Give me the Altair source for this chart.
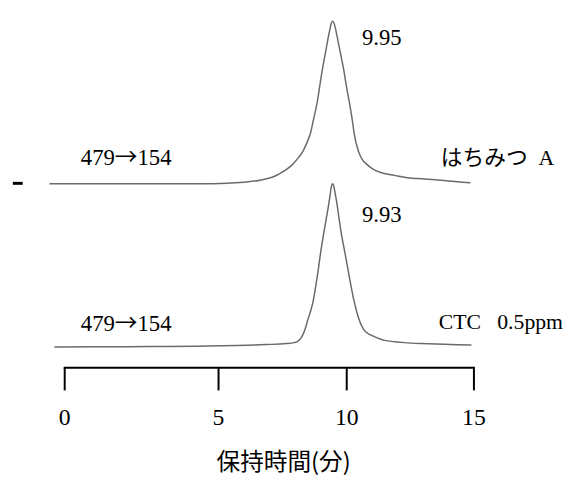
import altair as alt
import pandas as pd

# ---- data: retention time (min) and relative intensity (% of peak)
top_time = [-0.48, 1.12, 2.72, 4.33, 5.38, 6.12, 6.69, 7.19, 7.58, 7.88, 8.12, 8.31, 8.46, 8.62,
            8.73, 8.87, 8.96, 9.07, 9.19, 9.31, 9.37, 9.41, 9.47, 9.53, 9.58, 9.64, 9.77, 9.90,
            10.00, 10.12, 10.23, 10.32, 10.48, 10.62, 10.80, 11.05, 11.39, 11.90, 12.40, 13.06,
            13.84, 14.88]
top_int = [0, 0, 0, 0, 0.4, 1.1, 2.4, 4.5, 7.9, 11.5, 15.8, 20.0, 25.0, 32.0,
           40.0, 50.3, 59.4, 70.3, 80.6, 90.9, 95.5, 98.4, 100, 98.4, 95.5, 90.9, 80.6, 70.3,
           60.6, 50.3, 40.0, 30.3, 20.0, 15.2, 12.1, 9.1, 6.8, 5.2, 3.8, 3.0,
           2.1, 0.6]

bot_time = [-0.32, 1.12, 2.72, 4.33, 5.73, 6.88, 7.65, 7.96, 8.12, 8.23, 8.31, 8.40, 8.49, 8.60,
            8.70, 8.81, 8.91, 9.00, 9.10, 9.21, 9.32, 9.38, 9.42, 9.47, 9.52, 9.57, 9.64, 9.73,
            9.83, 9.95, 10.07, 10.19, 10.32, 10.47, 10.67, 10.81, 11.00, 11.24, 11.51, 11.90,
            12.29, 12.98, 13.84, 14.92]
bot_int = [-0.3, -0.2, 0, 0.2, 0.6, 1.2, 1.8, 2.4, 3.3, 5.2, 7.3, 10.9, 15.8, 21.2,
           27.1, 37.0, 47.3, 57.6, 67.5, 77.6, 87.7, 94.0, 98.3, 100, 98.3, 94.0, 87.7, 77.6,
           67.5, 57.6, 47.3, 37.0, 27.1, 18.2, 10.9, 8.5, 6.8, 5.2, 3.8, 3.0,
           2.4, 1.8, 1.4, 0.9]

trace_names = ["はちみつ A", "CTC 0.5ppm"]
trace_offset = [100, 0]          # vertical stacking of the two traces (intensity units)

tick_values = [0, 5, 10, 15]
axis_title = "保持時間(分)"

peak_labels = ["9.95", "9.93"]
peak_label_t = [10.62, 10.62]
peak_label_lvl = [89.7, 80.6]
peak_label_trace = [0, 1]

mrm_labels = ["479→154", "479→154"]
mrm_label_t = [0.54, 0.54]
mrm_label_lvl = [15.8, 13.9]
mrm_label_trace = [0, 1]

sample_labels = ["はちみつ\u2002A", "CTC\u2002 0.5ppm"]
sample_label_t = [13.72, 13.64]
sample_label_lvl = [15.8, 15.2]
sample_label_trace = [0, 1]

dash_t = [-1.67]
dash_t2 = [-1.35]
dash_lvl = [0.3]
dash_trace = [0]

# ---- tables
rows = []
for name, off, ts, vs in [(trace_names[0], trace_offset[0], top_time, top_int),
                          (trace_names[1], trace_offset[1], bot_time, bot_int)]:
    for t, v in zip(ts, vs):
        rows.append({"trace": name, "t": t, "v": v + off})
traces = pd.DataFrame(rows)


def label_df(texts, ts, lvls, idx):
    return pd.DataFrame({"label": texts, "t": ts,
                         "v": [l + trace_offset[i] for l, i in zip(lvls, idx)]})


peaks = label_df(peak_labels, peak_label_t, peak_label_lvl, peak_label_trace)
mrms = label_df(mrm_labels, mrm_label_t, mrm_label_lvl, mrm_label_trace)
samples = label_df(sample_labels, sample_label_t, sample_label_lvl, sample_label_trace)
dash = pd.DataFrame({"t": dash_t, "t2": dash_t2,
                     "v": [l + trace_offset[i] for l, i in zip(dash_lvl, dash_trace)]})

# ---- scales / axes
xscale = alt.Scale(domain=tick_values, range=[57, 213, 343, 472], nice=False, zero=False)
yscale = alt.Scale(domain=[-12.73, 206.06], nice=False, zero=False)

xaxis = alt.Axis(values=tick_values, format="d", title=axis_title, grid=False,
                 domainColor="black", domainWidth=2, domainCap="square",
                 tickColor="black", tickWidth=2, tickSize=23,
                 labelFont="Liberation Serif", labelFontSize=24, labelColor="black",
                 labelPadding=16, labelFlush=False, labelOverlap=False,
                 titleFont="Noto Sans CJK JP", titleFontSize=24, titleFontWeight="normal",
                 titleColor="black", titleX=279, titleY=97, titleBaseline="middle",
                 titleAlign="center")

X = alt.X("t:Q", scale=xscale, axis=xaxis)
Y = alt.Y("v:Q", scale=yscale, axis=None)

serif_cjk = "Liberation Serif, Noto Sans CJK JP"
fs = 23

lines = alt.Chart(traces).mark_line(color="#6a6a6a", strokeWidth=1.5, interpolate="monotone").encode(
    x=X, y=Y, detail="trace:N")

peak_text = alt.Chart(peaks).mark_text(align="left", baseline="middle", font="Liberation Serif",
                                       fontSize=fs, color="black").encode(x=X, y=Y, text="label:N")

# the transition label "479→154": digits in serif, the arrow as a full-width CJK arrow
mrm_base = alt.Chart(mrms).transform_calculate(
    pre="split(datum.label, '→')[0]",
    post="split(datum.label, '→')[1]",
    arrow="'→'",
)
mrm_pre = mrm_base.mark_text(align="left", baseline="middle", font="Liberation Serif",
                             fontSize=fs, color="black").encode(x=X, y=Y, text="pre:N")
mrm_arrow = mrm_base.mark_text(align="left", baseline="middle", font="Noto Sans CJK JP",
                               fontSize=fs, color="black", dx=fs * 1.5).encode(x=X, y=Y, text="arrow:N")
mrm_post = mrm_base.mark_text(align="left", baseline="middle", font="Liberation Serif",
                              fontSize=fs, color="black", dx=fs * 2.5).encode(x=X, y=Y, text="post:N")

sample_text = alt.Chart(samples).mark_text(align="left", baseline="middle", font=serif_cjk,
                                           fontSize=22, color="black").encode(x=X, y=Y, text="label:N")
dash_mark = alt.Chart(dash).mark_rule(color="black", strokeWidth=3).encode(x=X, x2="t2:Q", y=Y)

chart = alt.layer(lines, peak_text, mrm_pre, mrm_arrow, mrm_post, sample_text, dash_mark).properties(
    width=575, height=361,
    autosize=alt.AutoSizeParams(type="none"),
    padding={"left": 0, "top": 0, "right": 0, "bottom": 108},
    background="white",
).configure_view(strokeWidth=0)

chart.save("out.html", embed_options={"renderer": "svg", "actions": False})
